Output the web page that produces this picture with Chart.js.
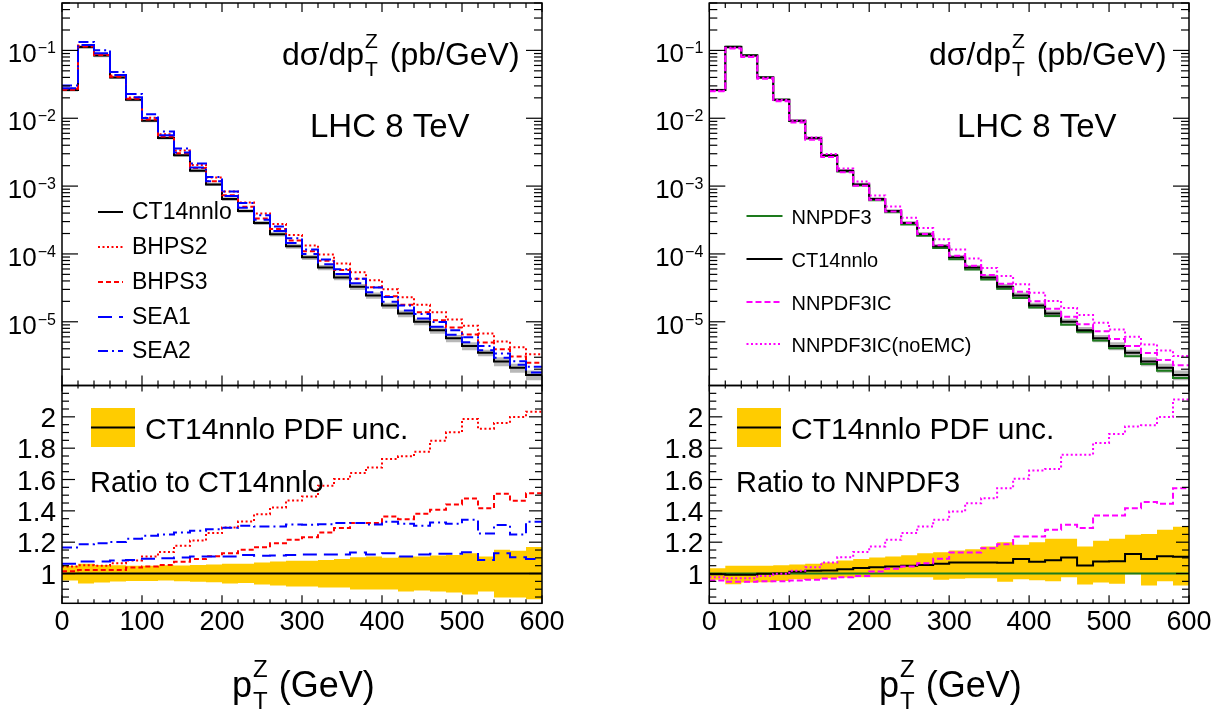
<!DOCTYPE html>
<html><head><meta charset="utf-8">
<script src="https://cdn.jsdelivr.net/npm/chart.js@4.4.1/dist/chart.umd.min.js"></script>
<style>
html,body{margin:0;padding:0;background:#fff;}
#wrap{position:relative;width:1223px;height:719px;overflow:hidden;background:#fff}
canvas{position:absolute;left:0;top:0}
</style></head><body><div id="wrap">
<canvas id="cLU" width="1223" height="719"></canvas>
<canvas id="cLL" width="1223" height="719"></canvas>
<canvas id="cRU" width="1223" height="719"></canvas>
<canvas id="cRL" width="1223" height="719"></canvas>
</div>
<script>
// ---------------- data ----------------
const binEdges = [0,20,40,60,80,100,120,140,160,180,200,220,240,260,280,300,320,340,360,380,400,420,440,460,480,500,520,540,560,580,600];
const xTickLabels = [0,100,200,300,400,500,600];
const logTickExps = [-1,-2,-3,-4,-5];
const ratioTickLabels = [1,1.2,1.4,1.6,1.8,2];

// CT14nnlo dsigma/dpT (pb/GeV)
const ct14 = [0.026,0.112,0.084,0.040,0.0187,0.0092,0.0051,0.00284,0.00169,0.00106,6.46e-4,4.3e-4,2.86e-4,1.95e-4,1.30e-4,8.9e-5,6.3e-5,4.5e-5,3.27e-5,2.44e-5,1.74e-5,1.32e-5,1.0e-5,7.5e-6,5.7e-6,4.4e-6,3.5e-6,2.6e-6,2.1e-6,1.64e-6];
const unity = [1,1,1,1,1,1,1,1,1,1,1,1,1,1,1,1,1,1,1,1,1,1,1,1,1,1,1,1,1,1];

// Left: ratios to CT14nnlo
const ratioBHPS2 = [1.045,1.053,1.05,1.066,1.083,1.109,1.138,1.177,1.211,1.258,1.294,1.332,1.379,1.422,1.466,1.492,1.560,1.603,1.641,1.677,1.731,1.748,1.777,1.848,1.901,1.986,1.924,1.961,1.999,2.033];
const ratioBHPS3 = [1.015,1.023,1.023,1.023,1.038,1.045,1.055,1.075,1.092,1.11,1.13,1.151,1.168,1.194,1.215,1.232,1.262,1.29,1.322,1.322,1.364,1.347,1.381,1.407,1.441,1.479,1.417,1.509,1.464,1.513];
const ratioSEA1 = [1.062,1.077,1.077,1.083,1.087,1.094,1.098,1.102,1.109,1.109,1.109,1.119,1.113,1.115,1.119,1.121,1.121,1.121,1.134,1.121,1.13,1.109,1.121,1.126,1.126,1.136,1.087,1.13,1.104,1.092];
const ratioSEA2 = [1.166,1.187,1.194,1.202,1.222,1.241,1.249,1.262,1.273,1.283,1.292,1.305,1.30,1.30,1.313,1.311,1.315,1.322,1.322,1.313,1.33,1.317,1.305,1.326,1.317,1.343,1.256,1.309,1.249,1.33];
const ct14UncUp = [1.049,1.062,1.055,1.053,1.049,1.049,1.053,1.051,1.055,1.058,1.062,1.062,1.07,1.077,1.081,1.081,1.087,1.092,1.104,1.109,1.1,1.109,1.109,1.115,1.119,1.13,1.109,1.151,1.145,1.17];
const ct14UncLo = [0.955,0.936,0.942,0.949,0.953,0.953,0.955,0.951,0.947,0.945,0.936,0.94,0.93,0.923,0.917,0.917,0.911,0.911,0.898,0.898,0.898,0.885,0.891,0.885,0.879,0.866,0.885,0.847,0.847,0.836];

// Right: ratios to NNPDF3
const ratioCT14toNN = [0.995,0.992,0.992,0.998,1.0,1.012,1.018,1.02,1.028,1.036,1.04,1.045,1.05,1.055,1.062,1.07,1.07,1.07,1.068,1.092,1.075,1.085,1.103,1.051,1.077,1.079,1.125,1.092,1.11,1.107];
const ratioNNIC = [0.955,0.947,0.947,0.951,0.951,0.955,0.96,0.968,0.977,0.985,1.013,1.03,1.045,1.066,1.094,1.134,1.134,1.162,1.187,1.236,1.236,1.279,1.311,1.29,1.371,1.371,1.417,1.456,1.445,1.545];
const ratioNNICnoEMC = [0.977,0.97,0.97,0.985,0.998,1.017,1.04,1.07,1.104,1.138,1.173,1.215,1.258,1.3,1.343,1.396,1.449,1.481,1.545,1.605,1.658,1.667,1.758,1.758,1.833,1.89,1.939,1.946,1.999,2.11];
const bandNNUp = [1.034,1.049,1.049,1.049,1.053,1.058,1.062,1.07,1.083,1.092,1.102,1.109,1.117,1.13,1.136,1.147,1.155,1.173,1.2,1.183,1.2,1.222,1.222,1.173,1.209,1.222,1.247,1.253,1.279,1.298];
const bandNNLo = [0.96,0.932,0.942,0.944,0.953,0.964,0.964,0.97,0.974,0.977,0.977,0.976,0.977,0.976,0.96,0.966,0.97,0.97,0.947,0.964,0.957,0.951,0.977,0.93,0.942,0.934,0.996,0.923,0.951,0.923];

// ---------------- style ----------------
const FONT = '"Liberation Sans", Arial, Helvetica, sans-serif';
const YELLOW = '#ffcc00';
const GREEN = '#1d7a1d';
const MAG = '#ff00ff';
const RED = '#ff0000';
const BLUE = '#0000ff';
const LOG_MIN = 1.15e-6, LOG_MAX = 0.5;
const R_MIN = 0.81, R_MAX = 2.2;

function steps(vals){
  const pts = vals.map((v,i)=>({x:binEdges[i], y:v}));
  pts.push({x:binEdges[vals.length], y:vals[vals.length-1]});
  return pts;
}
function mul(a,b){ return a.map((v,i)=>v*b[i]); }
function div(a,b){ return a.map((v,i)=>v/b[i]); }
function line(label, vals, color, dash, order, width){
  return {label, data:steps(vals), borderColor:color, borderWidth:width||2, borderDash:dash||[],
    stepped:true, pointRadius:0, fill:false, order:order, tension:0};
}
function bandPair(up, lo, color){
  return [
    {label:'bandUp', data:steps(up), borderColor:'rgba(0,0,0,0)', borderWidth:1, stepped:true, pointRadius:0, fill:'+1', backgroundColor:color, order:30},
    {label:'bandLo', data:steps(lo), borderColor:'rgba(0,0,0,0)', borderWidth:1, stepped:true, pointRadius:0, fill:false, order:31}
  ];
}

function txt(ctx, s, x, y, size, align, base){
  ctx.font = size + 'px ' + FONT;
  ctx.textAlign = align || 'left';
  ctx.textBaseline = base || 'alphabetic';
  ctx.fillStyle = '#000';
  ctx.fillText(s, x, y);
  return ctx.measureText(s).width;
}
function tickLine(ctx,x1,y1,x2,y2){ ctx.beginPath(); ctx.moveTo(x1,y1); ctx.lineTo(x2,y2); ctx.stroke(); }

function framePlugin(cfg){
  return {
    id: 'frame_' + cfg.name,
    afterDraw(chart){
      const ctx = chart.ctx, a = chart.chartArea, xs = chart.scales.x, ys = chart.scales.y;
      ctx.save();
      ctx.strokeStyle = '#000'; ctx.lineWidth = 1.5; ctx.setLineDash([]);
      ctx.strokeRect(a.left, a.top, a.right - a.left, a.bottom - a.top);
      ctx.lineWidth = 1.2;
      // x ticks
      binEdges.forEach(v => {
        const px = xs.getPixelForValue(v);
        const major = xTickLabels.includes(v);
        const Lb = major ? cfg.xMajB : cfg.xMinB;
        const Lt = major ? cfg.xMajT : cfg.xMinT;
        tickLine(ctx, px, a.bottom, px, a.bottom - Lb);
        tickLine(ctx, px, a.top, px, a.top + Lt);
      });
      // y ticks
      if (cfg.log){
        for (let e = -6; e <= -1; e++){
          for (let k = 1; k <= 9; k++){
            const v = k * Math.pow(10, e);
            if (v < LOG_MIN || v > LOG_MAX) continue;
            const py = ys.getPixelForValue(v);
            const L = (k === 1) ? 16 : 8;
            tickLine(ctx, a.left, py, a.left + L, py);
            tickLine(ctx, a.right, py, a.right - L, py);
          }
        }
        logTickExps.forEach(e => {
          const py = ys.getPixelForValue(Math.pow(10, e));
          ctx.font = '16px ' + FONT;
          const sup = '\u2212' + String(-e);
          const wSup = ctx.measureText(sup).width;
          ctx.font = '26px ' + FONT;
          const w10 = ctx.measureText('10').width;
          const xEnd = a.left - 6;
          const x10 = xEnd - wSup - w10 - 1;
          txt(ctx, '10', x10, py + 12, 26);
          txt(ctx, sup, x10 + w10 + 1, py + 3, 16);
        });
      } else {
        for (let i = 0; ; i++){
          const v = 0.85 + i * 0.05;
          if (v > R_MAX - 0.001) break;
          const py = ys.getPixelForValue(v);
          const major = ratioTickLabels.some(t => Math.abs(t - v) < 1e-6);
          tickLine(ctx, a.left, py, a.left + (major ? 13 : 7), py);
          tickLine(ctx, a.right, py, a.right - (major ? 13 : 7), py);
        }
        ratioTickLabels.forEach(t => {
          const py = ys.getPixelForValue(t);
          txt(ctx, String(t), a.left - 6, py + 10, 28, 'right');
        });
        xTickLabels.forEach(t => {
          const px = xs.getPixelForValue(t);
          txt(ctx, String(t), px, 630, 27, 'center');
        });
      }
      if (cfg.extra) cfg.extra(ctx, chart);
      ctx.restore();
    }
  };
}

function legendLine(ctx, x1, x2, y, color, dash, width){
  ctx.save(); ctx.strokeStyle = color; ctx.lineWidth = width || 2; ctx.setLineDash(dash || []);
  ctx.beginPath(); ctx.moveTo(x1, y); ctx.lineTo(x2, y); ctx.stroke(); ctx.restore();
}

function topTexts(ctx, dx){
  let x = 282 + dx;
  x += txt(ctx, 'd\u03c3/dp', x, 65, 32);
  const wZ = txt(ctx, 'Z', x + 1, 48, 21);
  const wT = txt(ctx, 'T', x + 1, 76, 21);
  x += Math.max(wZ, wT) + 4;
  txt(ctx, ' (pb/GeV)', x, 65, 32);
  txt(ctx, 'LHC 8 TeV', 310 + dx, 137, 33);
}
function xTitle(ctx, dx){
  let x = 232 + dx;
  x += txt(ctx, 'p', x, 697, 36);
  const wZ = txt(ctx, 'Z', x + 1, 677, 24);
  const wT = txt(ctx, 'T', x + 1, 709, 24);
  x += Math.max(wZ, wT) + 2;
  txt(ctx, ' (GeV)', x, 697, 36);
}
function ratioLegend(ctx, bx, tx, ratioText){
  ctx.save();
  ctx.fillStyle = YELLOW; ctx.fillRect(bx, 408, 44, 39);
  ctx.restore();
  legendLine(ctx, bx, bx + 44, 427.5, '#000', [], 2);
  txt(ctx, 'CT14nnlo PDF unc.', tx, 438.5, 30);
  txt(ctx, ratioText, bx - 1, 491.5, 29);
}

const DASH = {
  dot: [2, 2.5],
  dash: [5, 3],
  longdash: [14, 7],
  dashdot: [10, 4, 2, 4],
  icdash: [6, 3]
};

function baseOptions(pad, log){
  return {
    responsive: false, animation: false, events: [],
    layout: {padding: pad},
    plugins: {legend: {display: false}, tooltip: {enabled: false}},
    scales: {
      x: {type: 'linear', min: 0, max: 600, display: false},
      y: log ? {type: 'logarithmic', min: LOG_MIN, max: LOG_MAX, display: false}
             : {type: 'linear', min: R_MIN, max: R_MAX, display: false}
    }
  };
}

const GRAY = 'rgba(160,160,160,0.75)';
const padLU = {left: 62, right: 681, top: 3, bottom: 333.5};
const padLL = {left: 62, right: 681, top: 385.5, bottom: 115.7};
const padRU = {left: 709.3, right: 34, top: 3, bottom: 333.5};
const padRL = {left: 709.3, right: 34, top: 385.5, bottom: 115.7};

const tickU = {xMajB: 10, xMinB: 5, xMajT: 9, xMinT: 5};
const tickL = {xMajB: 8, xMinB: 4, xMajT: 6, xMinT: 3};

// ---- Left upper ----
const leftLegend = [
  {label: 'CT14nnlo', color: '#000', dash: []},
  {label: 'BHPS2', color: RED, dash: DASH.dot},
  {label: 'BHPS3', color: RED, dash: DASH.dash},
  {label: 'SEA1', color: BLUE, dash: DASH.longdash},
  {label: 'SEA2', color: BLUE, dash: DASH.dashdot}
];
new Chart(document.getElementById('cLU'), {
  type: 'line',
  data: {datasets: [
    ...bandPair(mul(ct14, ct14UncUp), mul(ct14, ct14UncLo), GRAY),
    line('CT14nnlo', ct14, '#000', [], 6),
    line('BHPS2', mul(ct14, ratioBHPS2), RED, DASH.dot, 5),
    line('BHPS3', mul(ct14, ratioBHPS3), RED, DASH.dash, 4),
    line('SEA1', mul(ct14, ratioSEA1), BLUE, DASH.longdash, 3),
    line('SEA2', mul(ct14, ratioSEA2), BLUE, DASH.dashdot, 2)
  ]},
  options: baseOptions(padLU, true),
  plugins: [framePlugin(Object.assign({name: 'LU', log: true, extra: (ctx) => {
    topTexts(ctx, 0);
    const ys = [212, 247, 282, 317, 351];
    leftLegend.forEach((e, i) => {
      legendLine(ctx, 98, 123, ys[i], e.color, e.dash, 2);
      txt(ctx, e.label, 132, ys[i] + 1, 23, 'left', 'middle');
    });
  }}, tickU))]
});

// ---- Left lower ----
new Chart(document.getElementById('cLL'), {
  type: 'line',
  data: {datasets: [
    ...bandPair(ct14UncUp, ct14UncLo, YELLOW),
    line('CT14nnlo', unity, '#000', [], 6),
    line('BHPS2', ratioBHPS2, RED, DASH.dot, 5),
    line('BHPS3', ratioBHPS3, RED, DASH.dash, 4),
    line('SEA1', ratioSEA1, BLUE, DASH.longdash, 3),
    line('SEA2', ratioSEA2, BLUE, DASH.dashdot, 2)
  ]},
  options: baseOptions(padLL, false),
  plugins: [framePlugin(Object.assign({name: 'LL', log: false, extra: (ctx) => {
    ratioLegend(ctx, 91, 145, 'Ratio to CT14nnlo');
    xTitle(ctx, 0);
  }}, tickL))]
});

// ---- Right upper ----
const nnpdf3 = div(ct14, ratioCT14toNN);
const rightLegend = [
  {label: 'NNPDF3', color: GREEN, dash: []},
  {label: 'CT14nnlo', color: '#000', dash: []},
  {label: 'NNPDF3IC', color: MAG, dash: DASH.icdash},
  {label: 'NNPDF3IC(noEMC)', color: MAG, dash: DASH.dot}
];
new Chart(document.getElementById('cRU'), {
  type: 'line',
  data: {datasets: [
    ...bandPair(mul(ct14, ct14UncUp), mul(ct14, ct14UncLo), GRAY),
    line('NNPDF3', nnpdf3, GREEN, [], 5),
    line('CT14nnlo', ct14, '#000', [], 4),
    line('NNPDF3IC', mul(nnpdf3, ratioNNIC), MAG, DASH.icdash, 3),
    line('NNPDF3IC(noEMC)', mul(nnpdf3, ratioNNICnoEMC), MAG, DASH.dot, 2)
  ]},
  options: baseOptions(padRU, true),
  plugins: [framePlugin(Object.assign({name: 'RU', log: true, extra: (ctx) => {
    topTexts(ctx, 647);
    const ys = [216, 259, 302, 344];
    rightLegend.forEach((e, i) => {
      legendLine(ctx, 746.5, 782.5, ys[i], e.color, e.dash, 2);
      txt(ctx, e.label, 791.5, ys[i] + 2, 20, 'left', 'middle');
    });
  }}, tickU))]
});

// ---- Right lower ----
new Chart(document.getElementById('cRL'), {
  type: 'line',
  data: {datasets: [
    ...bandPair(bandNNUp, bandNNLo, YELLOW),
    line('NNPDF3', unity, GREEN, [], 5),
    line('CT14nnlo', ratioCT14toNN, '#000', [], 4),
    line('NNPDF3IC', ratioNNIC, MAG, DASH.icdash, 3),
    line('NNPDF3IC(noEMC)', ratioNNICnoEMC, MAG, DASH.dot, 2)
  ]},
  options: baseOptions(padRL, false),
  plugins: [framePlugin(Object.assign({name: 'RL', log: false, extra: (ctx) => {
    ratioLegend(ctx, 737, 791, 'Ratio to NNPDF3');
    xTitle(ctx, 647);
  }}, tickL))]
});
</script>
</body></html>
